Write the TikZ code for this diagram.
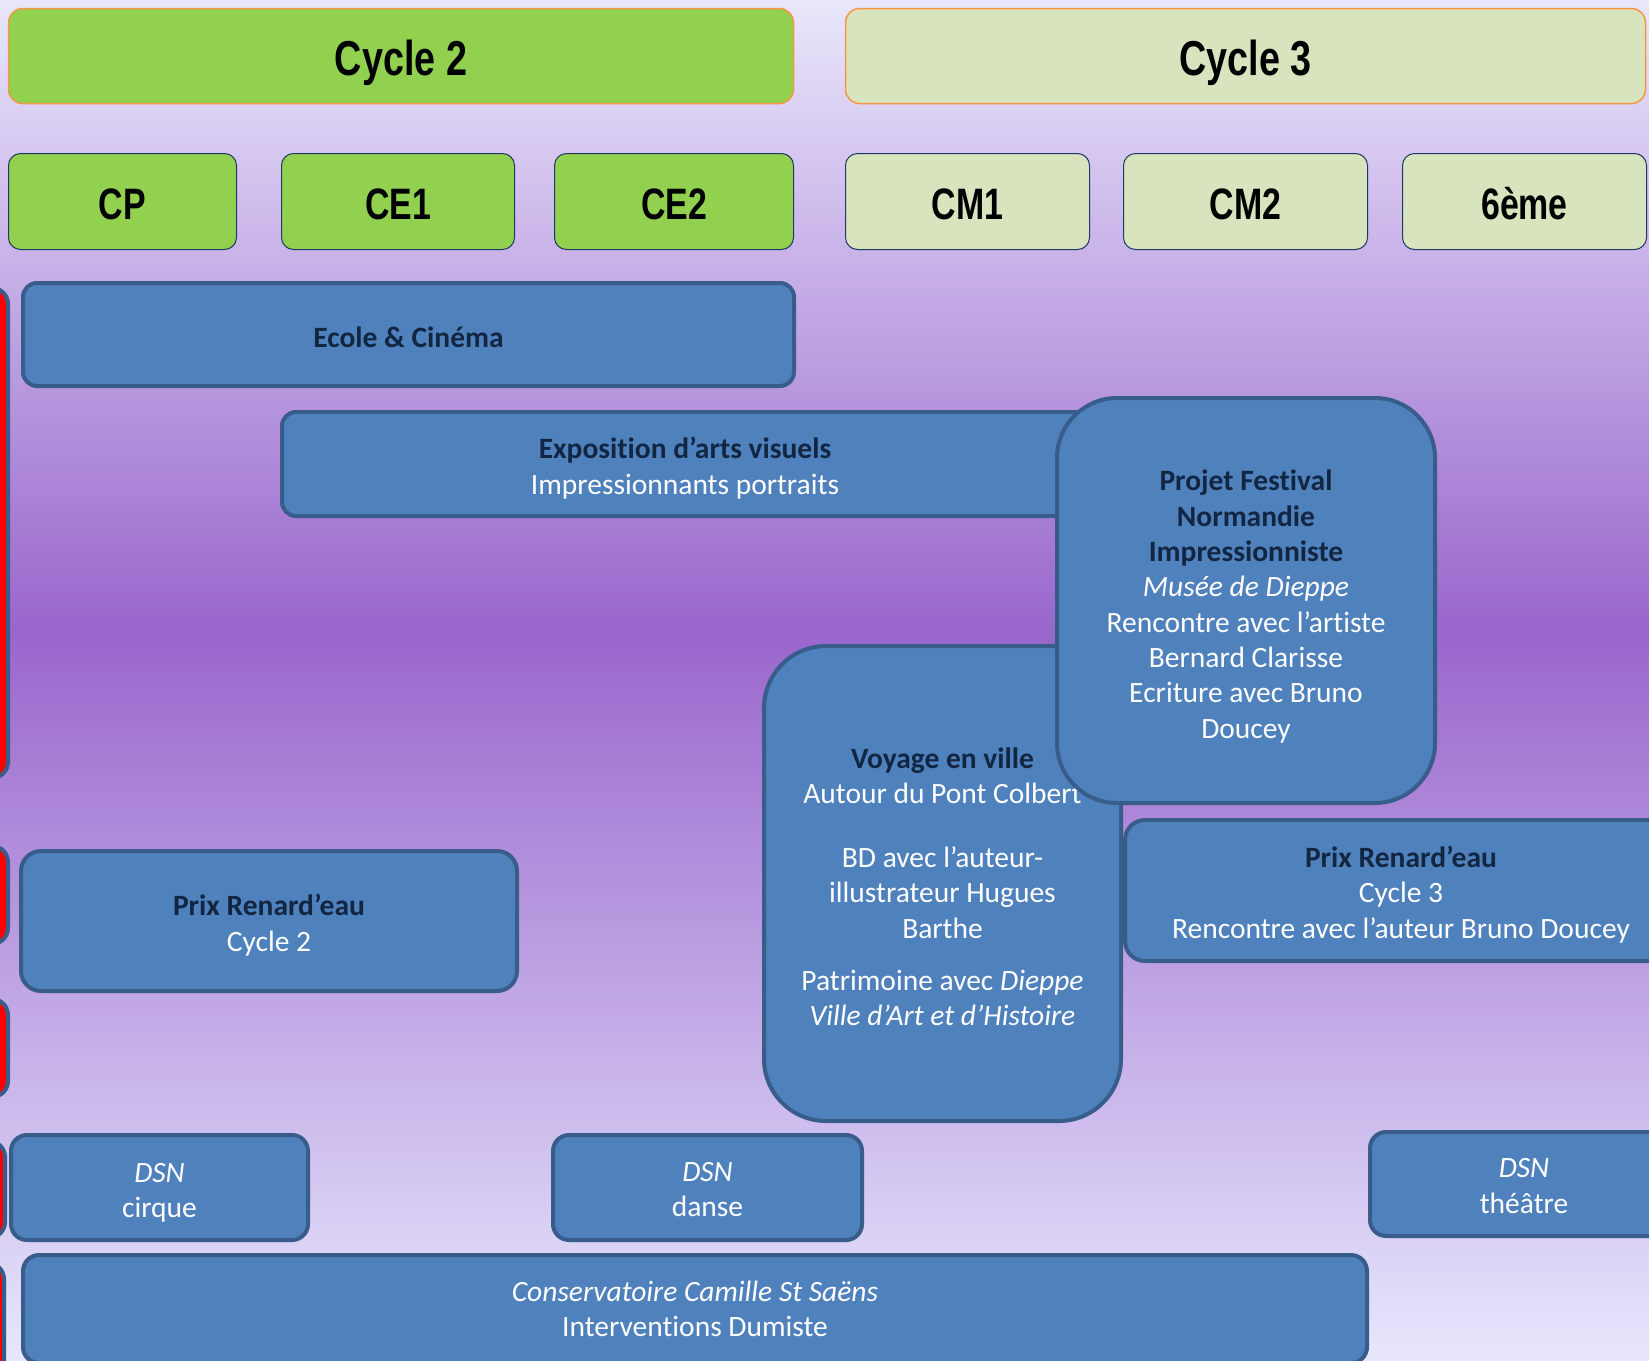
\documentclass[tikz,border=0pt]{standalone}
\usepackage{fontspec}
\setmainfont{Carlito}[Ligatures=NoCommon]
\newfontfamily\hdrfont[FakeStretch=0.77]{Liberation Sans}
\definecolor{bgtop}{RGB}{233,231,251}
\definecolor{bgmid}{RGB}{153,102,204}
\definecolor{bgbot}{RGB}{231,231,253}
\definecolor{boxfill}{RGB}{79,129,189}
\definecolor{boxline}{RGB}{56,93,138}
\definecolor{titlec}{RGB}{18,38,66}
\definecolor{greenA}{RGB}{146,208,80}
\definecolor{greenB}{RGB}{215,228,189}
\definecolor{orangeline}{RGB}{247,150,70}
\definecolor{hdrline}{RGB}{31,56,100}
\tikzset{
  bluebox/.style={draw=boxline, fill=boxfill, line width=4pt, rounded corners=14pt, inner sep=0pt},
  txt/.style={text=white, align=center, inner sep=0pt, font=\fontsize{29.5}{35.3}\selectfont},
  redbox/.style={draw=boxline, fill=red, line width=4pt, rounded corners=16pt},
  cyclebox/.style={draw=orangeline, line width=1.5pt, rounded corners=14pt,
    minimum width=785pt, minimum height=95pt, inner sep=0pt},
  gradebox/.style={draw=hdrline, line width=1pt, rounded corners=12pt,
    minimum height=96pt, inner sep=0pt},
  cyctxt/.style={inner sep=0pt, font=\hdrfont\bfseries\fontsize{49}{55}\selectfont},
  gradetxt/.style={inner sep=0pt, font=\hdrfont\bfseries\fontsize{44}{50}\selectfont},
}
\newcommand{\ttl}[1]{\textcolor{titlec}{\textbf{#1}}}
\begin{document}
\begin{tikzpicture}[x=1pt,y=-1pt]
\useasboundingbox (0,0) rectangle (1649,1360);
\clip (0,0) rectangle (1649,1360);
% background
\shade[top color=bgtop, bottom color=bgmid] (0,0) rectangle (1649,631);
\shade[top color=bgmid, bottom color=bgbot] (0,630) rectangle (1649,1360);
% headers
\node[cyclebox, fill=greenA] (cyc2) at (401,56) {};
\node[cyctxt] (cyc2t) at ([yshift=-7pt]cyc2.center) {Cycle 2};
\node[cyclebox, fill=greenB, minimum width=800pt] (cyc3) at (1245.5,56) {};
\node[cyctxt] (cyc3t) at ([yshift=-7pt]cyc3.center) {Cycle 3};
\node[gradebox, fill=greenA, minimum width=228pt] (cp) at (122.5,201.5) {};
\node[gradetxt] (cpt) at ([yshift=-2.5pt]cp.center) {CP};
\node[gradebox, fill=greenA, minimum width=233pt] (ce1) at (398,201.5) {};
\node[gradetxt] (ce1t) at ([yshift=-2.5pt]ce1.center) {CE1};
\node[gradebox, fill=greenA, minimum width=239pt] (ce2) at (674,201.5) {};
\node[gradetxt] (ce2t) at ([yshift=-2.5pt]ce2.center) {CE2};
\node[gradebox, fill=greenB, minimum width=244pt] (cm1) at (967.5,201.5) {};
\node[gradetxt] (cm1t) at ([yshift=-2.5pt]cm1.center) {CM1};
\node[gradebox, fill=greenB, minimum width=244pt] (cm2) at (1245.5,201.5) {};
\node[gradetxt] (cm2t) at ([yshift=-2.5pt]cm2.center) {CM2};
\node[gradebox, fill=greenB, minimum width=244pt] (six) at (1524.5,201.5) {};
\node[gradetxt] (sixt) at ([yshift=-2.5pt]six.center) {6ème};
% red side boxes
\draw[redbox] (-120,288) rectangle (8,778);
\draw[redbox] (-120,846) rectangle (8,944);
\draw[redbox] (-120,999) rectangle (8,1097);
\draw[redbox] (-120,1141) rectangle (5,1238);
\draw[redbox] (-120,1263) rectangle (4,1420);
% activity boxes
\node[bluebox, minimum width=771pt, minimum height=103pt] (ecole) at (408.5,334.5) {};
\node[txt] (ecolet) at ([yshift=-3pt]ecole.center) {\ttl{Ecole \& Cinéma}};
\node[bluebox, minimum width=806pt, minimum height=104pt] (expo) at (685,464) {};
\node[txt] (expot) at ([yshift=-4pt]expo.center) {\ttl{Exposition d’arts visuels}\\Impressionnants portraits};
\node[bluebox, rounded corners=62pt, minimum width=357pt, minimum height=475pt] (voyage) at (942.5,883.5) {};
\node[txt] (voyaget) at ([yshift=-3pt]voyage.center)
  {\ttl{Voyage en ville}\\Autour du Pont Colbert\\[28.7pt]BD avec l’auteur-\\illustrateur Hugues\\Barthe\\[16.7pt]Patrimoine avec \textit{Dieppe}\\\textit{Ville d’Art et d’Histoire}};
\node[bluebox, rounded corners=60pt, minimum width=378pt, minimum height=405pt] (projet) at (1246,600.5) {};
\node[txt] (projett) at ([yshift=-6pt]projet.center)
  {\ttl{Projet Festival}\\\ttl{Normandie}\\\ttl{Impressionniste}\\\textit{Musée de Dieppe}\\Rencontre avec l’artiste\\Bernard Clarisse\\Ecriture avec Bruno\\Doucey};
\node[bluebox, rounded corners=20pt, minimum width=496pt, minimum height=140pt] (prix2) at (269,921) {};
\node[txt] (prix2t) at ([yshift=-4pt]prix2.center) {\ttl{Prix Renard’eau}\\Cycle 2};
\node[bluebox, rounded corners=20pt, minimum width=552pt, minimum height=141pt] (prix3) at (1401,890.5) {};
\node[txt] (prix3t) at ([yshift=-4pt]prix3.center) {\ttl{Prix Renard’eau}\\Cycle 3\\Rencontre avec l’auteur Bruno Doucey};
\node[bluebox, rounded corners=16pt, minimum width=297pt, minimum height=105pt] (dsn1) at (159.5,1187.5) {};
\node[txt] (dsn1t) at ([yshift=-5pt]dsn1.center) {\textit{DSN}\\cirque};
\node[bluebox, rounded corners=16pt, minimum width=309pt, minimum height=105pt] (dsn2) at (707.5,1187.5) {};
\node[txt] (dsn2t) at ([yshift=-2pt]dsn2.center) {\textit{DSN}\\danse};
\node[bluebox, rounded corners=16pt, minimum width=308pt, minimum height=104pt] (dsn3) at (1524,1184) {};
\node[txt] (dsn3t) at ([yshift=-2pt]dsn3.center) {\textit{DSN}\\théâtre};
\node[bluebox, rounded corners=16pt, minimum width=1344pt, minimum height=108pt] (cons) at (695,1309) {};
\node[txt] (const) at (cons.center) {\textit{Conservatoire Camille St Saëns}\\Interventions Dumiste};
\end{tikzpicture}
\end{document}
